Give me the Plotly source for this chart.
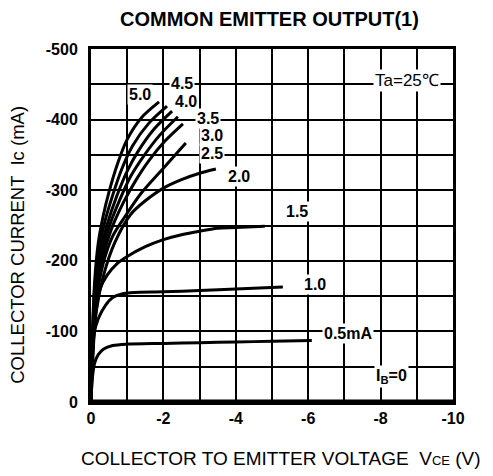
import plotly.graph_objects as go

# ---- data ----
curve_names = ["5.0", "4.5", "4.0", "3.5", "3.0", "2.5", "2.0", "1.5", "1.0", "0.5", "0"]

v_50 = [0, -0.03, -0.1, -0.2, -0.33, -0.5, -0.75, -1.0, -1.4, -1.88]
i_50 = [0, -80, -170, -225, -262, -298, -340, -372, -403, -425]
v_45 = [0, -0.03, -0.1, -0.22, -0.38, -0.6, -0.85, -1.15, -1.6, -2.1]
i_45 = [0, -75, -160, -215, -255, -293, -330, -363, -395, -419]
v_40 = [0, -0.03, -0.12, -0.25, -0.45, -0.7, -1.0, -1.3, -1.75, -2.24]
i_40 = [0, -70, -155, -210, -252, -290, -327, -355, -387, -412]
v_35 = [0, -0.03, -0.12, -0.28, -0.5, -0.8, -1.1, -1.45, -1.9, -2.4]
i_35 = [0, -65, -150, -205, -248, -287, -320, -348, -378, -404]
v_30 = [0, -0.03, -0.13, -0.3, -0.55, -0.9, -1.25, -1.6, -2.05, -2.54]
i_30 = [0, -60, -145, -200, -243, -283, -315, -342, -370, -394]
v_25 = [0, -0.03, -0.14, -0.33, -0.6, -0.93, -1.39, -2.03, -2.62]
i_25 = [0, -60, -140, -195, -235, -262, -296, -333, -367]
v_20 = [0, -0.03, -0.15, -0.35, -0.65, -1.1, -1.5, -2.0, -2.5, -3.0, -3.45]
i_20 = [0, -55, -130, -180, -225, -266, -285, -303, -315, -324, -330]
v_15 = [0, -0.05, -0.12, -0.25, -0.45, -0.7, -1.0, -1.5, -2.0, -2.5, -3.0, -3.5, -4.0, -4.8]
i_15 = [0, -60, -120, -160, -180, -195, -206, -220, -230, -237, -242, -246, -247, -249]
v_10 = [0, -0.03, -0.08, -0.2, -0.4, -0.6, -0.85, -1.2, -2.0, -3.0, -4.0, -5.3]
i_10 = [0, -50, -95, -118, -137, -148, -153, -155, -156, -158, -160, -163]
v_05 = [0, -0.03, -0.1, -0.2, -0.35, -0.6, -1.0, -2.0, -3.0, -4.0, -5.0, -6.1]
i_05 = [0, -30, -55, -67, -75, -80, -82, -83, -84, -85, -86, -87]
v_00 = [0, -10]
i_00 = [0, 0]

x_ticks = [0, -2, -4, -6, -8, -10]
y_ticks = [0, -100, -200, -300, -400, -500]

series_v = [v_50, v_45, v_40, v_35, v_30, v_25, v_20, v_15, v_10, v_05, v_00]
series_i = [i_50, i_45, i_40, i_35, i_30, i_25, i_20, i_15, i_10, i_05, i_00]

# label positions (data coords)
label_text = ["5.0", "4.5", "4.0", "3.5", "3.0", "2.5", "2.0", "1.5", "1.0", "0.5mA", "I<sub>B</sub>=0", "Ta=25℃"]
label_x = [-1.35, -2.5, -2.62, -3.24, -3.33, -3.33, -4.1, -5.68, -6.19, -7.11, -8.3, -8.72]
label_y = [-435, -451, -425, -402, -378, -352, -319, -270, -166, -97, -36, -456]

fig = go.Figure()
for name, v, i in zip(curve_names, series_v, series_i):
    fig.add_trace(go.Scatter(x=v, y=i, mode="lines", name=name,
                             line=dict(color="black", width=3, shape="spline", smoothing=0.8),
                             showlegend=False, hoverinfo="skip"))

FONT = "Liberation Sans, Arial, sans-serif"
for t, x, y in zip(label_text, label_x, label_y):
    bold = t not in ("Ta=25℃",)
    fig.add_annotation(x=x, y=y, text=t, showarrow=False, bgcolor="white",
                       font=dict(family=FONT, size=16 if bold else 17, color="black",
                                 weight="bold" if bold else "normal"),
                       borderpad=1)

fig.add_annotation(xref="paper", yref="paper", x=0.494, y=1.085,
                   xanchor="center", yanchor="middle",
                   text="COMMON EMITTER OUTPUT(1)", showarrow=False,
                   font=dict(family=FONT, size=20, color="black", weight="bold"))
fig.add_annotation(xref="paper", yref="paper", x=0.525, y=-0.160,
                   xanchor="center", yanchor="middle",
                   text="COLLECTOR TO EMITTER VOLTAGE  V<span style='font-size:13px'>CE</span> (V)",
                   showarrow=False, font=dict(family=FONT, size=19, color="black"))
fig.add_annotation(xref="paper", yref="paper", x=-0.202, y=0.445, textangle=-90,
                   xanchor="center", yanchor="middle",
                   text="COLLECTOR CURRENT  Ic (mA)",
                   showarrow=False, font=dict(family=FONT, size=18.5, color="black"))

# thick bottom frame
fig.add_shape(type="line", xref="paper", yref="paper", x0=0, x1=1, y0=0, y1=0,
              line=dict(color="black", width=5))

fig.update_xaxes(range=[0, -10], tickvals=x_ticks, ticktext=[str(t) for t in x_ticks],
                 showgrid=True, gridcolor="black", gridwidth=2,
                 minor=dict(dtick=1, tick0=0, showgrid=True, gridcolor="black", gridwidth=2),
                 showline=True, linecolor="black", linewidth=3, mirror=True,
                 zeroline=False, ticks="", ticklabelstandoff=0,
                 tickfont=dict(family=FONT, size=16, color="black", weight="bold"))
fig.update_yaxes(range=[0, -500], tickvals=y_ticks, ticktext=[str(t) for t in y_ticks],
                 showgrid=True, gridcolor="black", gridwidth=2,
                 minor=dict(dtick=50, tick0=0, showgrid=True, gridcolor="black", gridwidth=2),
                 showline=True, linecolor="black", linewidth=3, mirror=True,
                 zeroline=False, ticks="", ticklabelstandoff=7,
                 tickfont=dict(family=FONT, size=16, color="black", weight="bold"))

# body has an 8px default margin in the page: shift plot area so it lands where the reference has it
fig.update_layout(width=493, height=476, margin=dict(l=83, r=48, t=41, b=82),
                  plot_bgcolor="white", paper_bgcolor="white")

fig.write_html("out.html")
